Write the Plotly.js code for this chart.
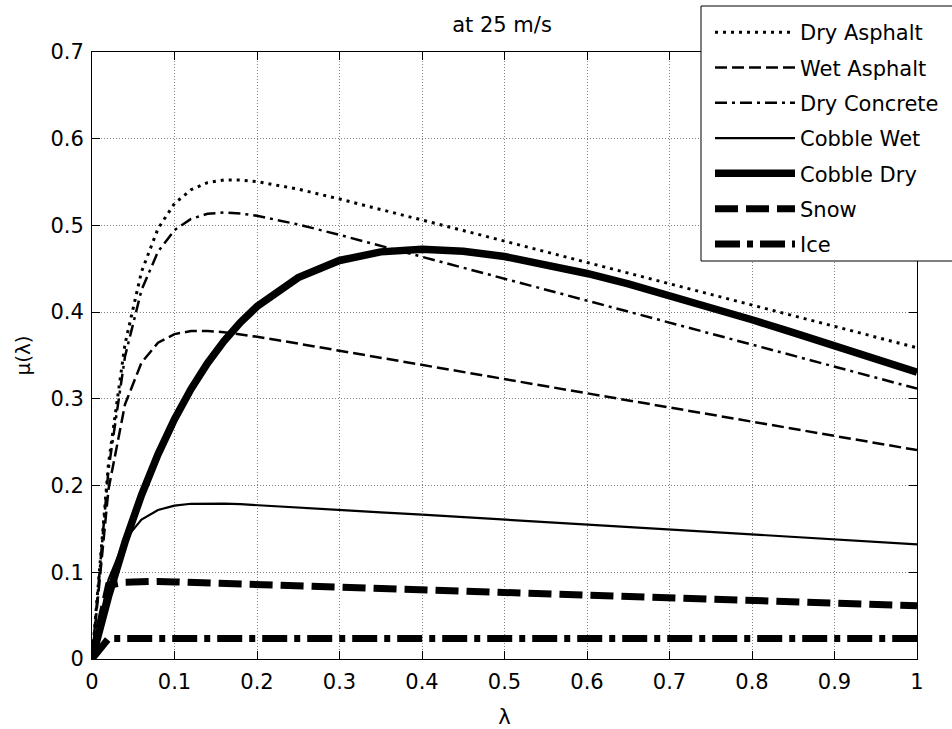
<!DOCTYPE html>
<html>
<head>
<meta charset="utf-8">
<script src="https://cdn.plot.ly/plotly-3.0.1.min.js"></script>
<style>html,body{margin:0;padding:0;background:#fff;overflow:hidden;}#chart{width:952px;height:729px;}</style>
</head>
<body>
<div id="chart"></div>
<script>
const lambda = [0,0.02,0.04,0.06,0.08,0.10,0.12,0.14,0.16,0.18,0.20,0.25,0.30,0.35,0.40,0.45,0.50,0.55,0.60,0.65,0.70,0.75,0.80,0.85,0.90,0.95,1.00];
const dryAsphalt = [0,0.2255,0.3632,0.4466,0.4963,0.5252,0.5412,0.5493,0.5524,0.5524,0.5506,0.5418,0.5305,0.5186,0.5064,0.4941,0.4819,0.4696,0.4573,0.4450,0.4327,0.4205,0.4082,0.3959,0.3836,0.3713,0.3590];
const wetAsphalt = [0,0.1957,0.2936,0.3418,0.3647,0.3747,0.3782,0.3783,0.3768,0.3744,0.3716,0.3637,0.3556,0.3474,0.3393,0.3311,0.3229,0.3147,0.3065,0.2983,0.2901,0.2819,0.2737,0.2655,0.2573,0.2491,0.2409];
const dryConcrete = [0,0.2186,0.3488,0.4254,0.4698,0.4946,0.5075,0.5134,0.5149,0.5138,0.5111,0.5011,0.4891,0.4766,0.4640,0.4514,0.4387,0.4260,0.4133,0.4006,0.3879,0.3752,0.3625,0.3498,0.3371,0.3245,0.3118];
const cobbleWet = [0,0.0916,0.1377,0.1607,0.1718,0.1769,0.1790,0.1795,0.1792,0.1785,0.1775,0.1749,0.1721,0.1692,0.1664,0.1635,0.1607,0.1579,0.1550,0.1522,0.1493,0.1465,0.1436,0.1408,0.1379,0.1351,0.1323];
const cobbleDry = [0,0.0721,0.1348,0.1891,0.2360,0.2765,0.3113,0.3411,0.3667,0.3883,0.4065,0.4398,0.4596,0.4695,0.4724,0.4701,0.4641,0.4553,0.4446,0.4326,0.4195,0.4056,0.3912,0.3764,0.3614,0.3461,0.3307];
const snow = [0,0.0850,0.0886,0.0898,0.0895,0.0889,0.0883,0.0876,0.0871,0.0864,0.0858,0.0843,0.0828,0.0812,0.0797,0.0782,0.0767,0.0751,0.0736,0.0721,0.0706,0.0690,0.0675,0.0660,0.0645,0.0629,0.0614];
const ice = [0,0.0236,0.0236,0.0236,0.0236,0.0236,0.0236,0.0236,0.0236,0.0236,0.0236,0.0236,0.0236,0.0236,0.0236,0.0236,0.0236,0.0236,0.0236,0.0236,0.0236,0.0236,0.0236,0.0236,0.0236,0.0236,0.0236];
const seriesNames = ['Dry Asphalt','Wet Asphalt','Dry Concrete','Cobble Wet','Cobble Dry','Snow','Ice'];
const xTickVals = [0,0.1,0.2,0.3,0.4,0.5,0.6,0.7,0.8,0.9,1];
const xTickText = ['0','0.1','0.2','0.3','0.4','0.5','0.6','0.7','0.8','0.9','1'];
const yTickVals = [0,0.1,0.2,0.3,0.4,0.5,0.6,0.7];
const yTickText = ['0','0.1','0.2','0.3','0.4','0.5','0.6','0.7'];

const ys = [dryAsphalt, wetAsphalt, dryConcrete, cobbleWet, cobbleDry, snow, ice];
const styles = [
  {width:3, dash:'3px,5px'},
  {width:2.5, dash:'12px,5px'},
  {width:2.5, dash:'12px,5px,3px,5px'},
  {width:2.2, dash:'solid'},
  {width:7.5, dash:'solid'},
  {width:7, dash:'23px,8px'},
  {width:7, dash:'25px,7px,6px,7px'}
];
const FONT = 'DejaVu Sans, Liberation Sans, Arial, sans-serif';
const FS = 21;
const traces = ys.map((y, i) => ({
  x: lambda, y: y, type: 'scatter', mode: 'lines', name: seriesNames[i],
  line: {color: '#000', width: styles[i].width, dash: styles[i].dash},
  legendgroup: 'g' + i
}));

// pixel helpers for placing the legend frame (plot area: x 92..917, y 52..659)
const px2x = p => (p - 92) / 825;
const px2y = p => (659 - p) / 607;
const frameL = px2x(701), frameR = px2x(1010), frameT = px2y(6), frameB = px2y(261);

const layout = {
  width: 952, height: 729,
  paper_bgcolor: '#fff', plot_bgcolor: '#fff',
  font: {family: FONT, size: FS, color: '#000'},
  margin: {l: 92, r: 35, t: 52, b: 70, autoexpand: false},
  showlegend: true,
  title: {text: 'at 25 m/s', font: {family: FONT, size: FS, color: '#000'},
          x: 502/952, xanchor: 'center', xref: 'container', y: 1 - 25/729, yref: 'container', yanchor: 'middle'},
  xaxis: {
    range: [0, 1], tickvals: xTickVals, ticktext: xTickText,
    ticks: 'inside', ticklen: 8, tickcolor: '#000', tickwidth: 1,
    showline: true, linecolor: '#000', linewidth: 1, mirror: 'ticks',
    showgrid: true, gridcolor: '#808080', gridwidth: 1, griddash: '1px,2px',
    zeroline: false, tickfont: {family: FONT, size: FS, color: '#000'},
    ticklabelstandoff: 4, layer: 'below traces',
    title: {text: 'λ', font: {family: FONT, size: FS, color: '#000'}, standoff: 17}
  },
  yaxis: {
    range: [0, 0.7], tickvals: yTickVals, ticktext: yTickText,
    ticks: 'inside', ticklen: 8, tickcolor: '#000', tickwidth: 1,
    showline: true, linecolor: '#000', linewidth: 1, mirror: 'ticks',
    showgrid: true, gridcolor: '#808080', gridwidth: 1, griddash: '1px,2px',
    zeroline: false, tickfont: {family: FONT, size: FS, color: '#000'},
    ticklabelstandoff: 3, layer: 'below traces',
    title: {text: 'μ(λ)', font: {family: FONT, size: 20, color: '#000'}, standoff: 14}
  },
  shapes: [
    {type: 'rect', xref: 'paper', yref: 'paper', layer: 'above',
     x0: frameL, x1: frameR, y0: frameB, y1: frameT,
     line: {width: 0}, fillcolor: '#fff'},
    {type: 'line', xref: 'paper', yref: 'paper', layer: 'above',
     x0: frameL, x1: frameR, y0: frameT, y1: frameT, line: {color: '#000', width: 1}},
    {type: 'line', xref: 'paper', yref: 'paper', layer: 'above',
     x0: frameL, x1: frameR, y0: frameB, y1: frameB, line: {color: '#000', width: 1}},
    {type: 'line', xref: 'paper', yref: 'paper', layer: 'above',
     x0: frameL, x1: frameL, y0: frameB, y1: frameT, line: {color: '#000', width: 1}}
  ],
  legend: {
    x: px2x(710), y: px2y(12), xanchor: 'left', yanchor: 'top',
    bgcolor: 'rgba(255,255,255,0)', borderwidth: 0,
    font: {family: FONT, size: 21, color: '#000'},
    itemwidth: 80, traceorder: 'grouped', tracegroupgap: 5
  }
};

Plotly.newPlot('chart', traces, layout, {displayModeBar: false, staticPlot: true});
</script>
</body>
</html>
